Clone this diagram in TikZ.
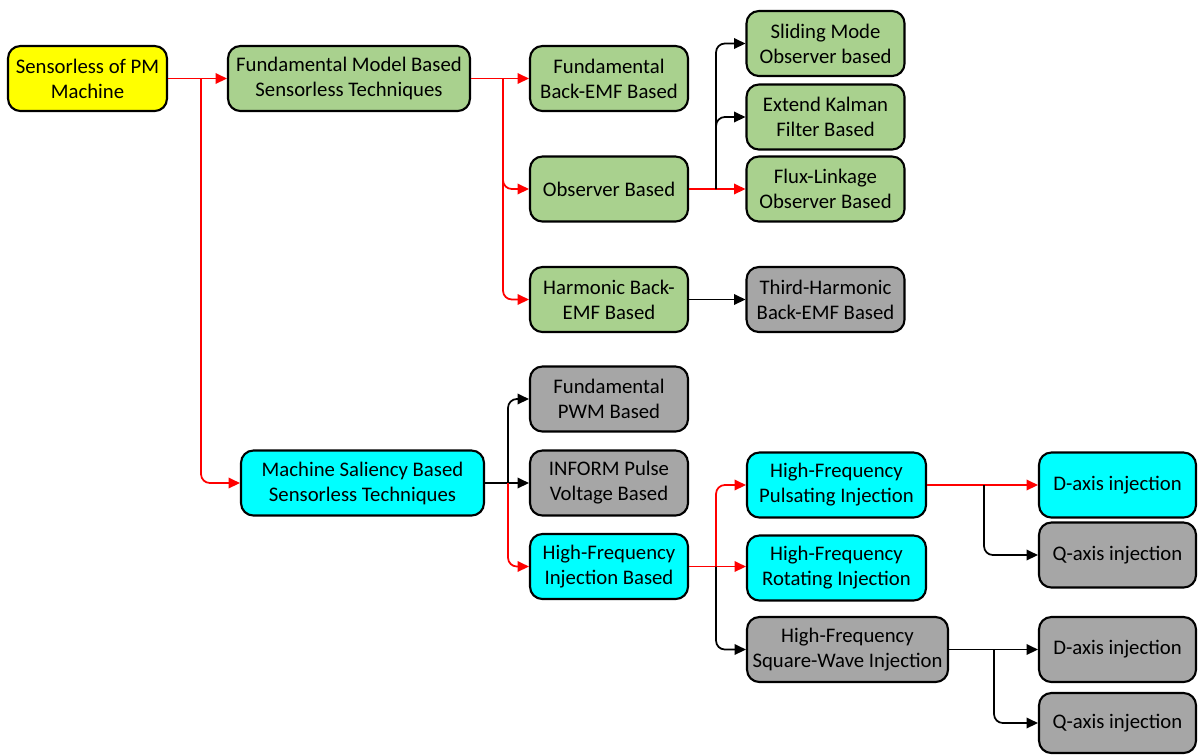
\documentclass[tikz,border=0pt]{standalone}
\usepackage{fontspec}
\setmainfont{Carlito}
\usetikzlibrary{arrows.meta,calc}
\definecolor{boxyellow}{HTML}{FFFF00}
\definecolor{boxgreen}{HTML}{A9D18E}
\definecolor{boxcyan}{HTML}{00FFFF}
\definecolor{boxgray}{HTML}{A6A6A6}
\definecolor{linkred}{HTML}{FF0000}
\begin{document}
\begin{tikzpicture}[x=0.02cm,y=-0.02cm,
  box/.style={draw=black,line width=1.2pt,rounded corners=7pt,align=center,
    minimum height=1.3cm,inner sep=1pt,
    font=\fontsize{11.8}{14.2}\selectfont},
  w158/.style={minimum width=3.16cm},
  yel/.style={box,fill=boxyellow},
  grn/.style={box,fill=boxgreen},
  cyn/.style={box,fill=boxcyan},
  gry/.style={box,fill=boxgray},
  link/.style={line width=1pt,rounded corners=5pt,-{Triangle[length=6.5pt,width=6pt]}},
  hot/.style={link,draw=linkred},
  cold/.style={link,draw=black}]
\useasboundingbox (0,0) rectangle (1200,755);

% boxes
\node[yel,minimum width=3.18cm] (pm)  at (87.5,78.5) {Sensorless of PM\\Machine};
\node[grn,minimum width=4.84cm] (fmb) at (349,78.5) {Fundamental Model Based\\Sensorless Techniques};
\node[grn,w158] (fbe) at (609,78.5) {Fundamental\\Back-EMF Based};
\node[grn,w158] (smo) at (825.5,43.5) {Sliding Mode\\Observer based};
\node[grn,w158] (ekf) at (825.5,117) {Extend Kalman\\Filter Based};
\node[grn,w158] (flo) at (825.5,189) {Flux-Linkage\\Observer Based};
\node[grn,w158] (obs) at (609,189) {Observer Based};
\node[grn,w158] (hbe) at (609,299.5) {Harmonic Back-\\EMF Based};
\node[gry,w158] (thb) at (825.5,299.5) {Third-Harmonic\\Back-EMF Based};
\node[gry,w158] (pwm) at (609,399) {Fundamental\\PWM Based};
\node[cyn,minimum width=4.86cm] (msb) at (362.5,483) {Machine Saliency Based\\Sensorless Techniques};
\node[gry,w158] (inf) at (609,483) {INFORM Pulse\\Voltage Based};
\node[cyn,w158] (hfi) at (609,566.5) {High-Frequency\\Injection Based};
\node[cyn,minimum width=3.58cm] (hfp) at (836.5,485) {High-Frequency\\Pulsating Injection};
\node[cyn,minimum width=3.58cm] (hfr) at (836.5,568) {High-Frequency\\Rotating Injection};
\node[gry,minimum width=4.02cm] (hfs) at (847.5,649.5) {High-Frequency\\Square-Wave Injection};
\node[cyn,minimum width=3.14cm] (d1) at (1117.5,485) {D-axis injection};
\node[gry,minimum width=3.14cm] (q1) at (1117.5,555) {Q-axis injection};
\node[gry,minimum width=3.14cm] (d2) at (1117.5,649.5) {D-axis injection};
\node[gry,minimum width=3.14cm,minimum height=1.2cm] (q2) at (1117.5,723) {Q-axis injection};

% branch points
\coordinate (j1) at ($(pm.east)+(33,0)$);
\coordinate (j2) at ($(fmb.east)+(32,0)$);
\coordinate (j3) at ($(obs.east)+(27,0)$);
\coordinate (j4) at ($(msb.east)+(23,0)$);
\coordinate (j5) at ($(hfi.east)+(27,0)$);
\coordinate (j6) at ($(hfp.east)+(57,0)$);
\coordinate (j7) at ($(hfs.east)+(45,0)$);

% connectors
\draw[hot] (pm.east) -- (fmb.west);
\draw[hot] (j1) |- (msb.west);
\draw[hot] (fmb.east) -- (fbe.west);
\draw[hot] (j2) |- (obs.west);
\draw[hot] (j2) |- (hbe.west);
\draw[hot] (obs.east) -- (flo.west);
\draw[cold] (j3) |- (smo.west);
\draw[cold] (j3) |- (ekf.west);
\draw[cold] (hbe.east) -- (thb.west);
\draw[cold] (msb.east) -- (inf.west);
\draw[cold] (j4) |- (pwm.west);
\draw[hot] (j4) |- (hfi.west);
\draw[hot] (hfi.east) -- (hfr.west |- hfi.east);
\draw[hot] (j5) |- (hfp.west);
\draw[cold] (j5) |- (hfs.west);
\draw[hot] (hfp.east) -- (d1.west);
\draw[cold] (j6) |- (q1.west);
\draw[cold] (hfs.east) -- (d2.west);
\draw[cold] (j7) |- (q2.west);
\end{tikzpicture}
\end{document}
